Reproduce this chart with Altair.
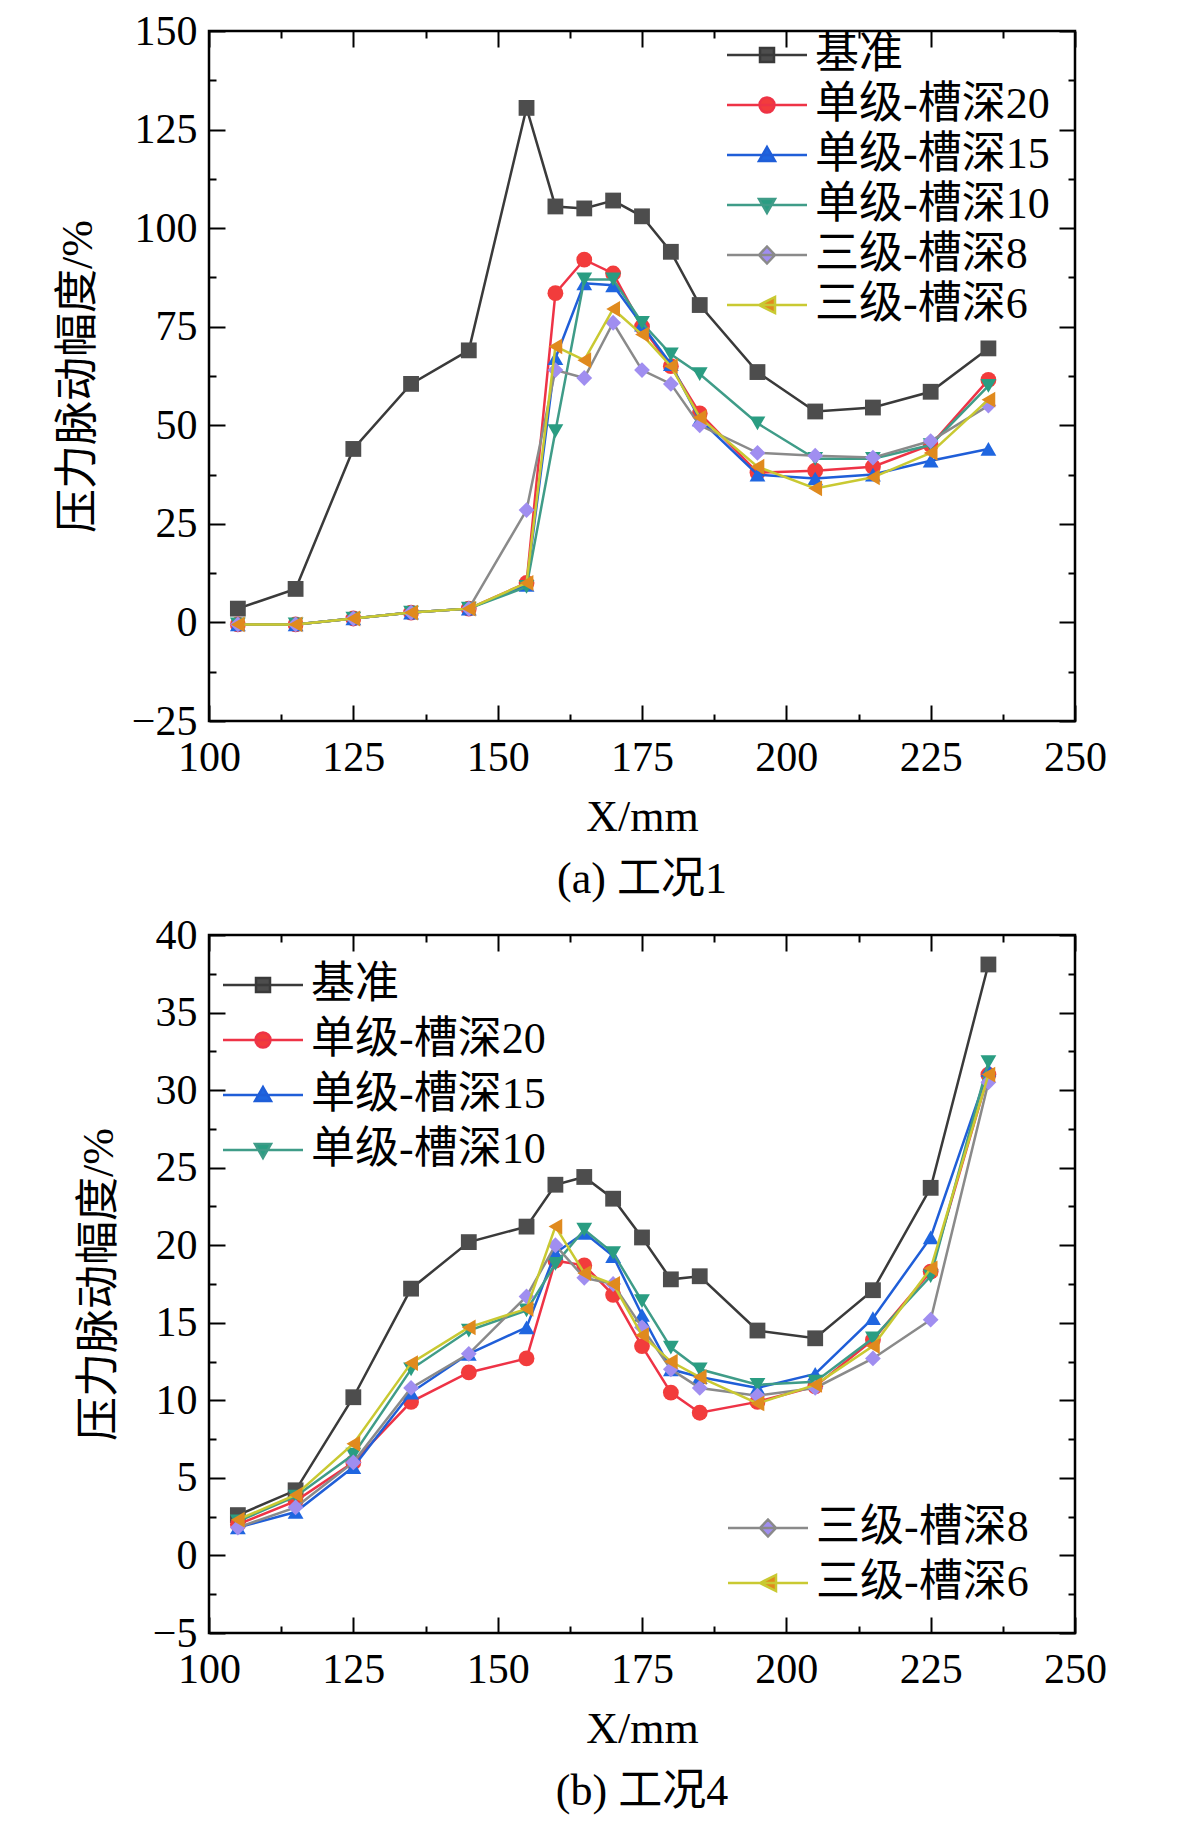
import altair as alt
import pandas as pd

# ---------------- data ----------------
X_MM = [105, 115, 125, 135, 145, 155, 160, 165, 170, 175, 180, 185, 195, 205, 215, 225, 235]
SERIES = ["基准", "单级-槽深20", "单级-槽深15", "单级-槽深10", "三级-槽深8", "三级-槽深6"]

# (a) 工况1
A_BASE = [3.5, 8.5, 44, 60.5, 69, 130.5, 105.5, 105, 107, 103, 94, 80.5, 63.5, 53.5, 54.5, 58.5, 69.5]
A_S20 = [-0.5, -0.5, 1, 2.5, 3.5, 10, 83.5, 92, 88.5, 75, 65, 53, 38, 38.5, 39.5, 45, 61.5]
A_S15 = [-0.5, -0.5, 1, 2.5, 3.5, 9.5, 67, 86, 85.5, 75.5, 65.5, 51.5, 37.5, 36.5, 37.5, 41, 44]
A_S10 = [-0.5, -0.5, 1, 2.5, 3.5, 9, 48.5, 87, 87, 76, 68, 63, 50.5, 41.5, 41.5, 45, 60]
A_T8 = [-0.5, -0.5, 1, 2.5, 3.5, 28.5, 64, 62, 76, 64, 60.5, 50, 43, 42.3, 41.8, 46, 55]
A_T6 = [-0.5, -0.5, 1, 2.5, 3.5, 10, 70, 66.5, 79.5, 73, 65, 52, 39.5, 34, 36.8, 43, 56.5]

# (b) 工况4
B_BASE = [2.6, 4.2, 10.2, 17.2, 20.2, 21.2, 23.9, 24.4, 23, 20.5, 17.8, 18, 14.5, 14, 17.1, 23.7, 38.1]
B_S20 = [2.0, 3.5, 6.0, 9.9, 11.8, 12.7, 19.0, 18.7, 16.8, 13.5, 10.5, 9.2, 9.9, 10.9, 13.9, 18.3, 31.0]
B_S15 = [1.8, 2.8, 5.7, 10.5, 13.0, 14.7, 19.5, 20.8, 19.3, 15.5, 12.0, 11.5, 10.8, 11.7, 15.3, 20.5, 31.3]
B_S10 = [2.2, 3.8, 6.5, 12.0, 14.5, 15.8, 18.8, 21.0, 19.5, 16.4, 13.4, 12.0, 11.0, 11.2, 14.0, 18.0, 31.8]
B_T8 = [1.8, 3.1, 6.0, 10.8, 13.0, 16.7, 20.0, 17.9, 17.5, 14.7, 12.0, 10.8, 10.3, 10.8, 12.7, 15.2, 30.5]
B_T6 = [2.3, 3.9, 7.2, 12.4, 14.7, 15.9, 21.2, 18.2, 17.5, 14.2, 12.5, 11.5, 9.8, 11.0, 13.5, 18.5, 31.0]

X_TICKS = [100, 125, 150, 175, 200, 225, 250]
X_MINOR = [100 + 12.5 * i for i in range(13)]
A_Y_TICKS = [-25, 0, 25, 50, 75, 100, 125, 150]
A_Y_MINOR = [-25 + 12.5 * i for i in range(15)]
B_Y_TICKS = [-5, 0, 5, 10, 15, 20, 25, 30, 35, 40]
B_Y_MINOR = [-5 + 2.5 * i for i in range(19)]

LINE_COLORS = ["#3a3a3a", "#ee3346", "#1f5ed8", "#3f9c88", "#8a8a8a", "#c9c932"]
MARKER_COLORS = ["#4d4d4d", "#f23c3c", "#1f66e0", "#2a9d82", "#a08ef0", "#e08a1e"]
SHAPES = ["square", "circle", "triangle-up", "triangle-down", "diamond", "triangle-left"]
LEGEND_SHAPES = [
    "M-1,0H15M5.6,-1.4H8.4V1.4H5.6Z",
    "M-1,0H15M5.5,0A1.5,1.5,0,1,1,8.5,0A1.5,1.5,0,1,1,5.5,0Z",
    "M-1,0H15M7,-1.6L8.6,1.2H5.4Z",
    "M-1,0H15M7,1.6L8.6,-1.2H5.4Z",
    "M-1,0H15M7,-1.7L8.6,0L7,1.7L5.4,0Z",
    "M-1,0H15M5.4,0L8.6,-1.6V1.6Z",
]

# ---------------- style ----------------
W = 866
FONT = "Liberation Serif, Noto Sans CJK SC"
TICK_FS = 42
TXT_FS = 44


def tick_cond(major):
    return {"condition": {"test": f"datum.value % {major} === 0", "value": 16}, "value": 7}


def x_axis(role, H):
    if role == "label":
        return alt.Axis(orient="bottom", values=X_TICKS, ticks=False, tickSize=0, domain=False,
                        grid=False, labelFont=FONT, labelFontSize=TICK_FS, labelColor="black",
                        labelPadding=16, labelFlush=False, labelOverlap=False,
                        title="X/mm", titleFont=FONT, titleFontSize=TXT_FS, titleFontWeight="normal",
                        titleColor="black", titlePadding=17)
    orient = "top" if role == "in_bottom" else "bottom"
    return alt.Axis(orient=orient, offset=-H, values=X_MINOR, labels=False, domain=False,
                    grid=False, ticks=True, tickSize=tick_cond(25), tickWidth=2,
                    tickColor="black", title=None)


def y_axis(role, major_vals, minor_vals, major_step):
    if role == "label":
        return alt.Axis(orient="left", values=major_vals, ticks=False, tickSize=0, domain=False,
                        grid=False, labelFont=FONT, labelFontSize=TICK_FS, labelColor="black",
                        labelPadding=12, labelFlush=False, labelOverlap=False,
                        title="压力脉动幅度/%", titleFont=FONT, titleFontSize=TXT_FS,
                        titleFontWeight="normal", titleColor="black", titlePadding=31)
    orient = "right" if role == "in_left" else "left"
    return alt.Axis(orient=orient, offset=-W, values=minor_vals, labels=False, domain=False,
                    grid=False, ticks=True, tickSize=tick_cond(major_step), tickWidth=2,
                    tickColor="black", title=None)


def make_panel(cols, H, ydomain, ymajor, yminor, ystep, legend_groups, title):
    xs = alt.Scale(domain=[100, 250], nice=False, zero=False)
    ys = alt.Scale(domain=ydomain, nice=False, zero=False)
    roles = [("label", "label"), ("in_bottom", "in_left"), ("in_top", "in_right")]
    layers = []
    k = 0
    for i, (name, vals) in enumerate(zip(SERIES, cols)):
        df = pd.DataFrame({"x": X_MM, "v": vals, "series": name})
        for kind in ("line", "point"):
            if k < len(roles):
                xa = x_axis(roles[k][0], H)
                ya = y_axis(roles[k][1], ymajor, yminor, ystep)
            else:
                xa = None
                ya = None
            k += 1
            base = alt.Chart(df)
            if kind == "line":
                m = base.mark_line(color=LINE_COLORS[i], strokeWidth=2.5)
            else:
                m = base.mark_point(filled=True, shape=SHAPES[i], size=250,
                                    color=MARKER_COLORS[i], opacity=1, strokeWidth=1)
            layers.append(m.encode(
                x=alt.X("x:Q", scale=xs, axis=xa),
                y=alt.Y("v:Q", scale=ys, axis=ya),
            ))
    for idxs, lx, ly, rp in legend_groups:
        names = [SERIES[j] for j in idxs]
        leg = alt.Legend(orient="none", legendX=lx, legendY=ly, title=None, labelFont=FONT,
                         labelFontSize=TXT_FS, labelColor="black", labelLimit=600, labelOffset=61,
                         symbolSize=100, symbolStrokeWidth=2.5, rowPadding=rp, padding=0,
                         symbolOpacity=1, direction="vertical")
        ldf = pd.DataFrame({"x": [X_MM[0]] * len(names), "v": [0] * len(names), "series": names})
        layers.append(
            alt.Chart(ldf).transform_filter("false").mark_point(filled=True, opacity=1).encode(
                x=alt.X("x:Q", scale=xs, axis=None),
                y=alt.Y("v:Q", scale=ys, axis=None),
                shape=alt.Shape("series:N", scale=alt.Scale(domain=names, range=[LEGEND_SHAPES[j] for j in idxs]), legend=leg),
                fill=alt.Fill("series:N", scale=alt.Scale(domain=names, range=[MARKER_COLORS[j] for j in idxs]), legend=leg),
                stroke=alt.Stroke("series:N", scale=alt.Scale(domain=names, range=[LINE_COLORS[j] for j in idxs]), legend=leg),
            )
        )
    return alt.layer(*layers).resolve_axis(x="independent", y="independent").resolve_scale(
        shape="independent", fill="independent", stroke="independent"
    ).properties(
        width=W, height=H,
        title=alt.TitleParams(title, orient="bottom", anchor="middle", frame="group", font=FONT,
                              fontSize=TXT_FS, fontWeight="normal", color="black", offset=19),
    )


panel_a = make_panel([A_BASE, A_S20, A_S15, A_S10, A_T8, A_T6], 690, [-25, 150], A_Y_TICKS, A_Y_MINOR, 25,
                     [([0, 1, 2, 3, 4, 5], 501, 2, 6)], "(a) 工况1")
panel_b = make_panel([B_BASE, B_S20, B_S15, B_S10, B_T8, B_T6], 698, [-5, 40], B_Y_TICKS, B_Y_MINOR, 5,
                     [([0, 1, 2, 3], -3, 28, 11), ([4, 5], 502, 571, 11)], "(b) 工况4")

chart = alt.vconcat(panel_a, panel_b, spacing=8).properties(
    padding={"left": 47, "top": 0, "right": 5, "bottom": 5},
    background="white",
).configure_view(stroke="black", strokeWidth=2.5)

chart.save("out.html", embed_options={"renderer": "svg", "actions": False})
